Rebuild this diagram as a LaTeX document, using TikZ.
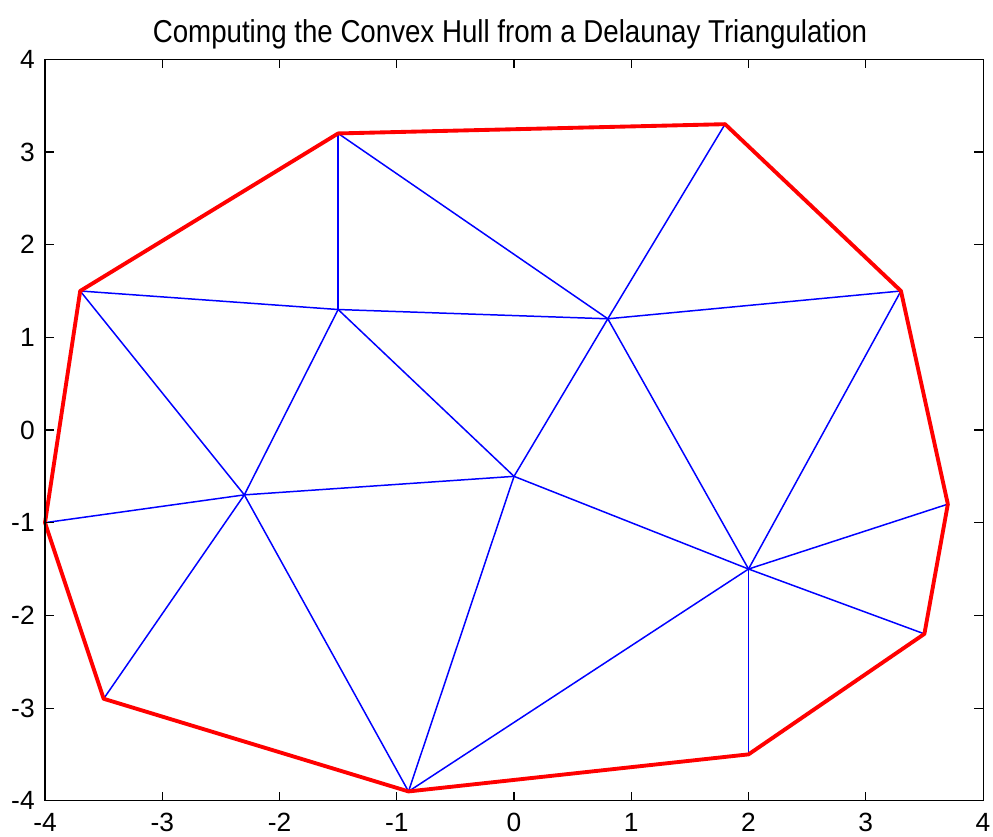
\documentclass[tikz,border=0pt]{standalone}
\usepackage{fontspec}
\setmainfont{Liberation Sans}
\newfontfamily\titlefont{Liberation Sans}[FakeStretch=0.875]
\usetikzlibrary{positioning}

\tikzset{
  tri/.style={blue, line width=0.85pt},
  hull/.style={red, line width=2.2pt, line join=round},
  axisbox/.style={black, line width=0.6pt},
  ticklab/.style={font=\fontsize{15}{18}\selectfont, inner sep=0pt},
}

\begin{document}
\begin{tikzpicture}[x=2.345cm, y=1.8535cm]
  \useasboundingbox (-4.384,-4.381) rectangle (4.085,4.640);

  % hull sites
  \coordinate (a) at (-1.5,3.2);
  \coordinate (b) at (1.8,3.3);
  \coordinate (c) at (3.3,1.5);
  \coordinate (d) at (3.7,-0.8);
  \coordinate (e) at (3.5,-2.2);
  \coordinate (f) at (2,-3.5);
  \coordinate (g) at (-0.9,-3.9);
  \coordinate (h) at (-3.5,-2.9);
  \coordinate (i) at (-4,-1);
  \coordinate (j) at (-3.7,1.5);
  % inner sites
  \coordinate (k) at (-1.5,1.3);
  \coordinate (l) at (0.8,1.2);
  \coordinate (m) at (-2.3,-0.7);
  \coordinate (n) at (0,-0.5);
  \coordinate (o) at (2,-1.5);

  % triangulation
  \foreach \u/\v in {a/k, a/l, b/l, c/l, c/o, j/k, k/l, j/m, k/m, k/n, l/n,
                     l/o, i/m, m/n, n/o, d/o, e/o, f/o, g/o, g/m, g/n, h/m}
    \draw[tri] (\u) -- (\v);

  % convex hull
  \draw[hull] (a) -- (b) -- (c) -- (d) -- (e) -- (f) -- (g) -- (h) -- (i) -- (j) -- cycle;

  % axes
  \draw[axisbox] (-4,-4) rectangle (4,4);
  \foreach \t [count=\n] in {-4,...,4} {
    \draw[axisbox] (\t,-4) -- ++(0,0.18cm);
    \draw[axisbox] (\t,4) -- ++(0,-0.18cm);
    \draw[axisbox] (-4,\t) -- ++(0.18cm,0);
    \draw[axisbox] (4,\t) -- ++(-0.18cm,0);
    \node[ticklab, anchor=north, yshift=-0.24cm] (xl\n) at (\t,-4) {\t};
    \node[ticklab, anchor=east, xshift=-0.2cm] (yl\n) at (-4,\t) {\t};
  }

  \node[anchor=base, inner sep=0pt, yshift=0.34cm, xshift=-0.08cm,
        font=\titlefont\fontsize{18}{22}\selectfont] (title) at (0,4)
    {Computing the Convex Hull from a Delaunay Triangulation};
\end{tikzpicture}
\end{document}
